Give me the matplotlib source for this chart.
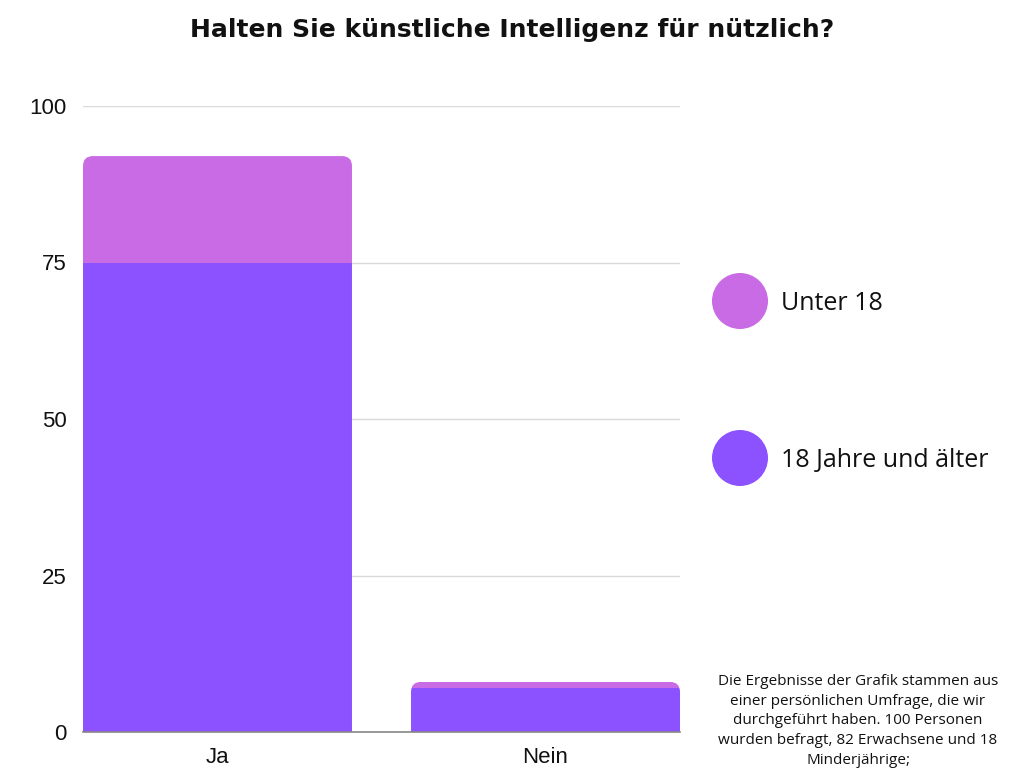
import matplotlib
matplotlib.use("Agg")
import matplotlib.pyplot as plt
from matplotlib.patches import FancyBboxPatch, Circle

categories = ["Ja", "Nein"]
adults = [75, 7]          # 18 Jahre und älter
minors = [17, 1]          # Unter 18
series_names = ["Unter 18", "18 Jahre und älter"]
colors = ["#C96BE5", "#8C52FF"]
yticks = [0, 25, 50, 75, 100]
title = "Halten Sie künstliche Intelligenz für nützlich?"
note = ("Die Ergebnisse der Grafik stammen aus\neiner persönlichen Umfrage, die wir\n"
        "durchgeführt haben. 100 Personen\nwurden befragt, 82 Erwachsene und 18\nMinderjährige;")

W, H = 1024, 768
fig = plt.figure(figsize=(W / 100, H / 100), dpi=100)
ax_l, ax_r, ax_b, ax_t = 83, 680, 732, 106
ax = fig.add_axes([ax_l / W, 1 - ax_b / H, (ax_r - ax_l) / W, (ax_b - ax_t) / H])

x = list(range(len(categories)))
width = 0.82
b1 = ax.bar(x, adults, width=width, color=colors[1], zorder=2)
b2 = ax.bar(x, minors, width=width, bottom=adults, color=colors[0], zorder=2)

ax.set_xlim(-0.41, 1.41)
ax.set_ylim(0, 100)

# rounded top corners via clip path
px_per_x = (ax_r - ax_l) / 1.82
px_per_y = (ax_b - ax_t) / 100
r_px = 10
rx = r_px / px_per_x
ry = r_px / px_per_y
for i, (a, m) in enumerate(zip(adults, minors)):
    total = a + m
    clip = FancyBboxPatch((i - width / 2, -20), width, total + 20,
                          boxstyle=f"round,pad=0,rounding_size={rx}",
                          mutation_aspect=ry / rx, transform=ax.transData,
                          facecolor="none", edgecolor="none")
    ax.add_patch(clip)
    b1.patches[i].set_clip_path(clip)
    b2.patches[i].set_clip_path(clip)

ax.set_yticks(yticks)
ax.set_xticks(x)
ax.set_xticklabels(categories)
ax.tick_params(axis="both", length=0, labelsize=16, colors="#111111")
ax.tick_params(axis="y", pad=12)
ax.tick_params(axis="x", pad=11)
for lab in ax.get_xticklabels() + ax.get_yticklabels():
    lab.set_fontfamily("Liberation Sans")
ax.grid(axis="y", color="#d9d9d9", linewidth=1, zorder=0)
ax.set_axisbelow(True)
for s in ["top", "right", "left"]:
    ax.spines[s].set_visible(False)
ax.spines["bottom"].set_color("#888888")
ax.spines["bottom"].set_linewidth(1.2)
ax.spines["bottom"].set_zorder(3)

fig.text(0.5, 1 - 30 / H, title, ha="center", va="center", fontsize=18,
         fontweight="bold", family="DejaVu Sans", color="#111111")

# legend
leg_y = [301, 458]
for name, col, yy in zip(series_names, colors, leg_y):
    c = Circle((740 / 100, (H - yy) / 100), 0.28, transform=fig.dpi_scale_trans,
               facecolor=col, edgecolor="none")
    fig.patches.append(c)
    fig.text(781 / W, 1 - (yy + 2) / H, name, ha="left", va="center", fontsize=18,
             family="Open Sans", color="#111111")

fig.text(858 / W, 1 - 721 / H, note, ha="center", va="center", fontsize=11,
         family="Open Sans", color="#111111", linespacing=1.42)

fig.savefig("out.png", dpi=100)
